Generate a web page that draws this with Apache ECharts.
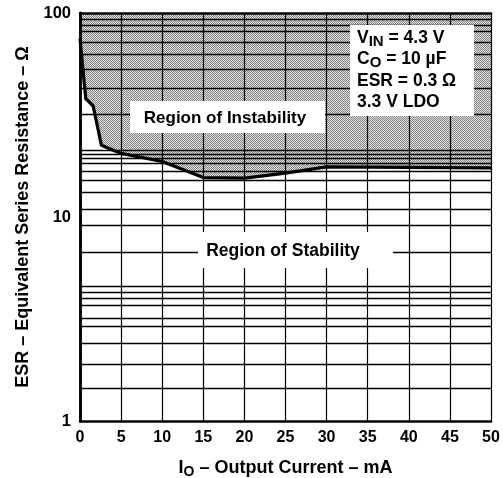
<!DOCTYPE html>
<html>
<head>
<meta charset="utf-8">
<script src="https://cdn.jsdelivr.net/npm/echarts@6/dist/echarts.min.js"></script>
<style>
html, body { margin: 0; padding: 0; background: #fff; }
#chart { width: 503px; height: 478px; }
</style>
</head>
<body>
<div id="chart"></div>
<script>
// ESR 稳定区域曲线 (IO in mA, ESR in ohm)
var currentMA = [0, 0.7, 1.6, 2.6, 5, 10, 15, 20, 25, 30, 40, 50];
var esrOhm = [75, 38, 35, 22.5, 20.5, 18.7, 15.6, 15.5, 16.4, 17.6, 17.5, 17.4];
// horizontal grid lines as printed on the datasheet (not a regular log grid)
var hGrid = [93, 87, 81, 72, 63, 53, 43, 32, 21.3, 20.4, 19.3, 18.3, 16.8, 15.2, 13.2, 10.9,
	9.1, 6.7, 4.6, 4.3, 4.0, 3.7, 3.2, 2.9, 2.4, 1.9, 1.45];

var FONT = '"Liberation Sans", Arial, Helvetica, sans-serif';

// dotted gray fill
function dotPattern() {
	var c = document.createElement('canvas');
	c.width = 2;
	c.height = 2;
	var ctx = c.getContext('2d');
	ctx.fillStyle = '#e0e0e0';
	ctx.fillRect(0, 0, 2, 2);
	ctx.fillStyle = '#858585';
	ctx.fillRect(0, 0, 1, 1);
	ctx.fillRect(1, 1, 1, 1);
	return c;
}

var myChart = echarts.init(document.getElementById('chart'));
var curve = currentMA.map(function(x, i) {
	return [x, esrOhm[i]];
});

var borderLine = { show: true, lineStyle: { color: '#000', width: 2.5 } };

var option = {
	animation: false,
	backgroundColor: '#fff',
	textStyle: { fontFamily: FONT },
	grid: { left: 80, right: 12, top: 13, bottom: 57, outerBoundsMode: 'none' },
	xAxis: [{
		type: 'value',
		min: 0,
		max: 50,
		interval: 5,
		z: 10,
		name: '{b|I}{s|O}{b| – Output Current – mA}',
		nameLocation: 'middle',
		nameGap: 36,
		nameTextStyle: {
			rich: {
				b: { fontSize: 18, fontWeight: 'bold', color: '#000', fontFamily: FONT },
				s: { fontSize: 14, fontWeight: 'bold', color: '#000', fontFamily: FONT, padding: [8, 0, 0, 0] }
			}
		},
		axisLine: borderLine,
		axisTick: { show: false },
		splitLine: { show: true, lineStyle: { color: '#000', width: 1.2 } },
		axisLabel: { color: '#000', fontSize: 16, fontWeight: 'bold', margin: 9, fontFamily: FONT }
	}, {
		type: 'value',
		position: 'top',
		min: 0,
		max: 50,
		z: 10,
		axisLine: borderLine,
		axisTick: { show: false },
		axisLabel: { show: false },
		splitLine: { show: false }
	}],
	yAxis: [{
		type: 'log',
		logBase: 10,
		min: 1,
		max: 100,
		z: 10,
		name: 'ESR – Equivalent Series Resistance – Ω',
		nameLocation: 'middle',
		nameGap: 48,
		nameTextStyle: { fontSize: 18, fontWeight: 'bold', color: '#000', fontFamily: FONT },
		axisLine: borderLine,
		axisTick: { show: false },
		splitLine: { show: false },
		minorSplitLine: { show: false },
		axisLabel: { color: '#000', fontSize: 16.5, fontWeight: 'bold', margin: 9, fontFamily: FONT }
	}, {
		type: 'log',
		logBase: 10,
		position: 'right',
		min: 1,
		max: 100,
		z: 10,
		axisLine: borderLine,
		axisTick: { show: false },
		axisLabel: { show: false },
		splitLine: { show: false },
		minorSplitLine: { show: false }
	}],
	series: [{
		// 不稳定区域
		type: 'line',
		data: curve,
		symbol: 'none',
		z: 2,
		lineStyle: { width: 0 },
		areaStyle: {
			origin: 'end',
			opacity: 1,
			color: { image: dotPattern(), repeat: 'repeat' }
		}
	}, {
		// 横向网格线
		type: 'line',
		data: [],
		z: 3,
		markLine: {
			silent: true,
			symbol: 'none',
			animation: false,
			label: { show: false },
			lineStyle: { color: '#000', width: 1.3, type: 'solid' },
			data: hGrid.map(function(v) {
				return { yAxis: v };
			})
		}
	}, {
		type: 'line',
		data: curve,
		symbol: 'none',
		z: 20,
		lineStyle: { color: '#000', width: 3.2 }
	}],
	graphic: [{
		type: 'rect',
		z: 100,
		shape: { x: 130, y: 101, width: 195, height: 32 },
		style: { fill: '#fff' }
	}, {
		type: 'text',
		z: 101,
		x: 225,
		y: 118,
		style: {
			text: 'Region of Instability',
			fill: '#000',
			font: 'bold 17px ' + FONT,
			align: 'center',
			verticalAlign: 'middle'
		}
	}, {
		type: 'rect',
		z: 100,
		shape: { x: 350, y: 25, width: 124, height: 91 },
		style: { fill: '#fff' }
	}, {
		type: 'text',
		z: 101,
		x: 357,
		y: 27,
		style: {
			text: '{b|V}{s|IN}{b| = 4.3 V}\n{b|C}{s|O}{b| = 10 µF}\n{b|ESR = 0.3 Ω}\n{b|3.3 V LDO}',
			fill: '#000',
			rich: {
				b: { fontSize: 17.5, fontWeight: 'bold', fontFamily: FONT, fill: '#000', lineHeight: 21.5 },
				s: { fontSize: 15, fontWeight: 'bold', fontFamily: FONT, fill: '#000', lineHeight: 21.5, padding: [8, 0, 0, 0] }
			}
		}
	}, {
		type: 'rect',
		z: 100,
		shape: { x: 198, y: 232, width: 195, height: 36 },
		style: { fill: '#fff' }
	}, {
		type: 'text',
		z: 101,
		x: 283,
		y: 251,
		style: {
			text: 'Region of Stability',
			fill: '#000',
			font: 'bold 17.5px ' + FONT,
			align: 'center',
			verticalAlign: 'middle'
		}
	}]
};
myChart.setOption(option);
</script>
</body>
</html>
